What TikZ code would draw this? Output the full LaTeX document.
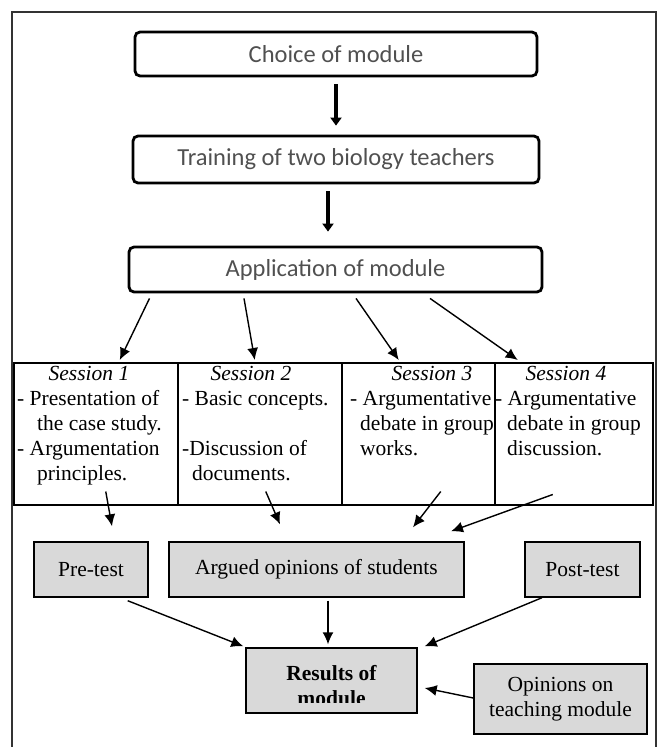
\documentclass[tikz,border=0pt]{standalone}
\usepackage{fontspec}
\setmainfont{Liberation Serif}
\newfontfamily\boxfont{Carlito}
\usetikzlibrary{arrows.meta}
\definecolor{boxgray}{RGB}{217,217,217}
\definecolor{sansgray}{RGB}{80,80,80}
\tikzset{
  topbox/.style={draw, rounded corners=5pt, line width=2.8pt, minimum width=#1, minimum height=45pt, inner sep=0pt, text=sansgray, font=\boxfont\fontsize{24.5}{28}\selectfont},
  cell/.style={draw, line width=1.5pt, anchor=north west, minimum height=142pt, inner sep=0pt},
  greybox/.style={draw, line width=1.4pt, fill=boxgray, inner sep=0pt, align=center, font=\fontsize{21.5}{25}\selectfont},
  celltext/.style={anchor=north west, inner sep=0pt, align=left, font=\fontsize{21.5}{25}\selectfont},
  sestitle/.style={anchor=base, inner sep=0pt, font=\itshape\fontsize{21.5}{25}\selectfont},
  bigarrow/.style={-{Triangle[width=11pt,length=8pt]}, line width=4.5pt},
  arrow/.style={-{Latex[width=11pt,length=12pt]}, line width=1.4pt}
}
\begin{document}
\begin{tikzpicture}[x=1pt,y=-1pt]
\useasboundingbox (0,0) rectangle (664,747);
\draw[line width=1.5pt,black!80] (12,747) -- (12,12) -- (656,12) -- (656,747);
% top chain
\node[topbox=402pt, minimum height=44pt] (choice) at (336,54) {Choice of module};
\node[topbox=406pt, minimum height=47pt] (train) at (336,159.5) {Training of two biology teachers};
\node[topbox=413pt] (app) at (335.5,269.5) {Application of module};
\draw[bigarrow] ([yshift=-7pt]choice.south) -- ([yshift=9pt]train.north);
\draw[bigarrow] ([xshift=-8pt,yshift=-7pt]train.south) -- ([xshift=-7.5pt,yshift=14pt]app.north);
% sessions
\node[cell, minimum width=164pt] (s1) at (13,362) {};
\node[cell, minimum width=164pt] (s2) at (177,362) {};
\node[cell, minimum width=153pt] (s3) at (341,362) {};
\node[cell, minimum width=158pt] (s4) at (494,362) {};
\node[sestitle] (t1) at (89,380) {Session 1};
\node[sestitle] (t2) at (251,380) {Session 2};
\node[sestitle] (t3) at (432,380) {Session 3};
\node[sestitle] (t4) at (566,380) {Session 4};
\node[celltext] (b1) at (17,387.5) {\strut- Presentation of\\\hspace*{20pt}the case study.\\- Argumentation\\\hspace*{20pt}principles.};
\node[celltext] (b2) at (182,387.5) {\strut- Basic concepts.\\[25pt]-Discussion of\\\hspace*{10pt}documents.};
\node[celltext] (b3) at (350,387.5) {\strut- Argumentative\\\hspace*{10pt}debate in group\\\hspace*{10pt}works.};
\node[celltext] (b4) at (495,387.5) {\strut- Argumentative\\\hspace*{12pt}debate in group\\\hspace*{12pt}discussion.};
\draw[arrow] ([xshift=-186pt,yshift=-5pt]app.south) -- ([xshift=24pt,yshift=2pt]s1.north);
\draw[arrow] ([xshift=-91.5pt,yshift=-5pt]app.south) -- ([xshift=-5pt,yshift=2pt]s2.north);
\draw[arrow] ([xshift=20.5pt,yshift=-5pt]app.south) -- ([xshift=-19.5pt,yshift=2pt]s3.north);
\draw[arrow] ([xshift=94.5pt,yshift=-5pt]app.south) -- ([xshift=-56pt,yshift=2pt]s4.north);
% results part
\node[greybox, minimum width=114pt, minimum height=55pt] (pre) at (91,569.5) {Pre-test};
\node[greybox, minimum width=295pt, minimum height=55pt] (arg) at (316.5,569.5) {Argued opinions of students};
\node[greybox, minimum width=115pt, minimum height=55pt] (post) at (582.5,569.5) {Post-test};
\node[greybox, minimum width=171pt, minimum height=65pt] (res) at (331.5,680.5) {};
\node[greybox, minimum width=173pt, minimum height=70pt] (opi) at (560.5,699) {Opinions on\\teaching module};
\begin{scope}
\clip (res.north west) rectangle ([yshift=11pt]res.south east);
\node[greybox, draw=none, fill=none, font=\bfseries\fontsize{21.5}{25}\selectfont] (restext) at (331.5,685.5) {Results of\\module};
\end{scope}
\draw[arrow] ([xshift=10pt,yshift=14pt]s1.south) -- ([xshift=21pt,yshift=15pt]pre.north);
\draw[arrow] ([xshift=6pt,yshift=14pt]s2.south) -- ([xshift=-36.5pt,yshift=17pt]arg.north);
\draw[arrow] ([xshift=22.5pt,yshift=14pt]s3.south) -- ([xshift=96.5pt,yshift=14pt]arg.north);
\draw[arrow] ([xshift=-21pt,yshift=11pt]s4.south) -- ([xshift=134.5pt,yshift=10pt]arg.north);
\draw[arrow] ([xshift=-21pt,yshift=-3pt]pre.south east) -- ([xshift=-2pt,yshift=1pt]res.north west);
\draw[arrow] ([xshift=11.5pt,yshift=-3pt]arg.south) -- ([xshift=-3.5pt,yshift=3pt]res.north);
\draw[arrow] ([xshift=-40.5pt]post.south) -- ([xshift=7pt,yshift=1pt]res.north east);
\draw[arrow] ([yshift=1pt]opi.west) -- ([xshift=7pt,yshift=-7.5pt]res.east);
\end{tikzpicture}
\end{document}
